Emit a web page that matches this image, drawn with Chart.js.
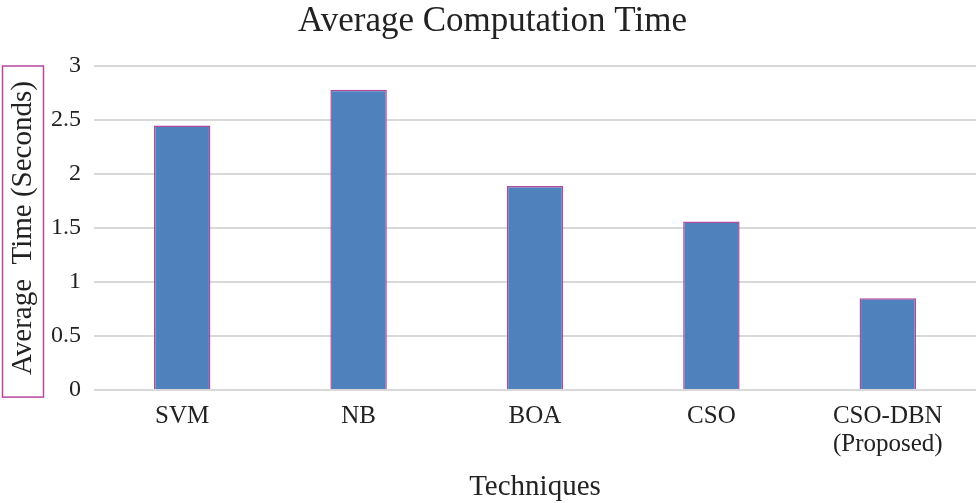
<!DOCTYPE html>
<html>
<head>
<meta charset="utf-8">
<script src="https://cdn.jsdelivr.net/npm/chart.js@4"></script>
<style>
html,body{margin:0;padding:0;background:#fff;}
#wrap{width:976px;height:503px;position:relative;}
</style>
</head>
<body>
<div id="wrap"><canvas id="c" width="976" height="503"></canvas></div>
<script>
const categories = ["SVM", "NB", "BOA", "CSO", ["CSO-DBN", "(Proposed)"]];
const avgTimeSeconds = [2.45, 2.78, 1.89, 1.56, 0.85];
const yTickValues = [0, 0.5, 1, 1.5, 2, 2.5, 3];
const chartTitle = "Average Computation Time";
const xAxisTitle = "Techniques";
const yAxisTitle = "Average  Time (Seconds)";

const FONT = "'Liberation Serif', 'Times New Roman', serif";

const boxPlugin = {
  id: 'yTitleBox',
  afterDraw(chart) {
    const ca = chart.chartArea;
    const ctx = chart.ctx;
    ctx.save();
    ctx.strokeStyle = '#b5479f';
    ctx.lineWidth = 1.5;
    ctx.strokeRect(2.5, ca.top, 41, ca.bottom - ca.top + 7);
    ctx.restore();
  }
};

new Chart(document.getElementById('c'), {
  type: 'bar',
  data: {
    labels: categories,
    datasets: [{
      data: avgTimeSeconds,
      backgroundColor: '#4f81bd',
      borderColor: '#b04a9c',
      borderWidth: 1.5,
      barPercentage: 0.32,
      categoryPercentage: 1
    }]
  },
  options: {
    responsive: false,
    animation: false,
    layout: { padding: { left: 9, right: 0, top: 1, bottom: 0 } },
    plugins: {
      legend: { display: false },
      tooltip: { enabled: false },
      title: {
        display: true,
        text: chartTitle,
        color: '#222',
        font: { family: FONT, size: 35, weight: 'normal', lineHeight: 1.2 },
        padding: { top: 0, bottom: 23 }
      }
    },
    scales: {
      x: {
        grid: { display: false, drawTicks: false },
        border: { display: false },
        ticks: {
          color: '#222',
          font: { family: FONT, size: 25, lineHeight: 1.1 },
          padding: 13,
          maxRotation: 0,
          autoSkip: false
        },
        title: {
          display: true,
          text: xAxisTitle,
          color: '#222',
          font: { family: FONT, size: 29, lineHeight: 1.1 },
          padding: { top: 0, bottom: 0 }
        }
      },
      y: {
        min: 0,
        max: 3,
        afterBuildTicks(scale) { scale.ticks = yTickValues.map(v => ({ value: v })); },
        grid: { color: '#d9d9d9', lineWidth: 2, drawTicks: false },
        border: { display: false },
        ticks: {
          color: '#222',
          font: { family: FONT, size: 24 },
          padding: 13,
          callback: v => String(v)
        },
        title: {
          display: true,
          text: yAxisTitle,
          color: '#222',
          font: { family: FONT, size: 29, lineHeight: 1.0 },
          padding: { top: 0, bottom: 0 }
        }
      }
    }
  },
  plugins: [boxPlugin]
});
</script>
</body>
</html>
